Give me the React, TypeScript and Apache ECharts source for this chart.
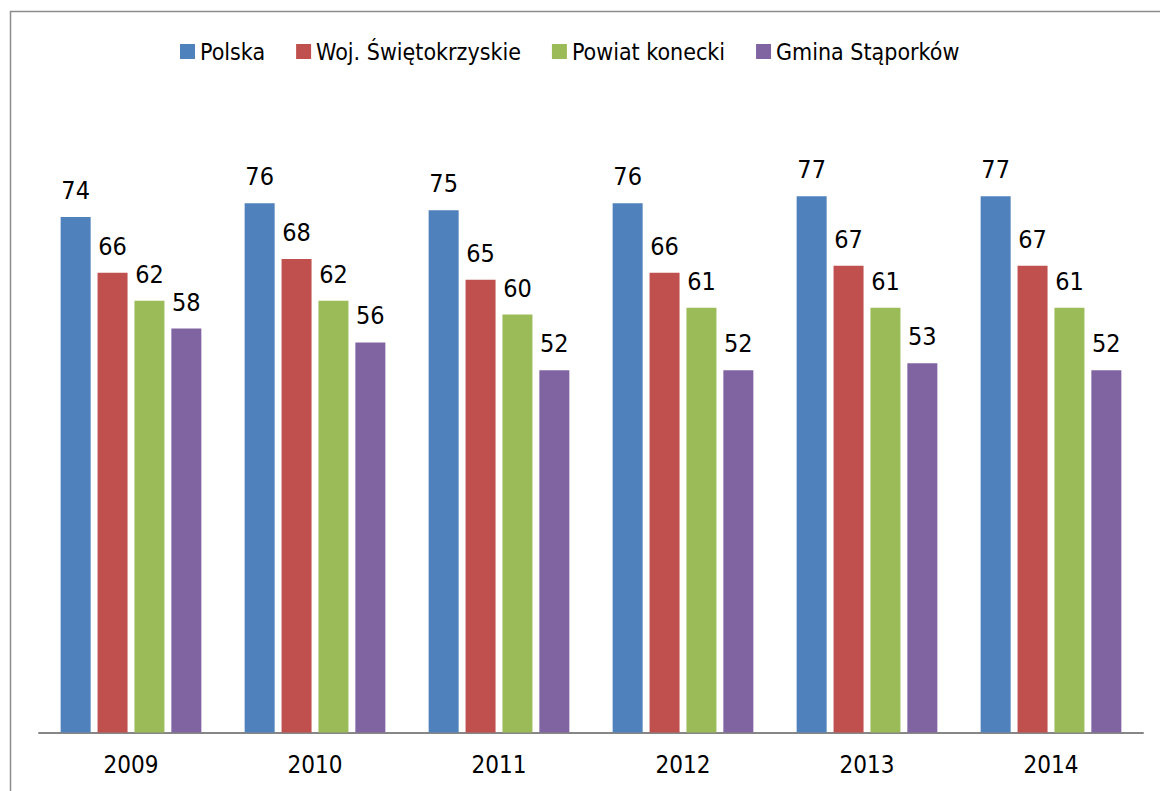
import React, { useEffect, useRef } from "react";
import * as echarts from "echarts";

const years = ["2009", "2010", "2011", "2012", "2013", "2014"];
const polska = [74, 76, 75, 76, 77, 77];
const swietokrzyskie = [66, 68, 65, 66, 67, 67];
const konecki = [62, 62, 60, 61, 61, 61];
const staporkow = [58, 56, 52, 52, 53, 52];

const seriesNames = ["Polska", "Woj. Świętokrzyskie", "Powiat konecki", "Gmina Stąporków"];
const colors = ["#4F81BD", "#C0504D", "#9BBB59", "#8064A2"];

const FONT = "'DejaVu Sans Condensed', 'Liberation Sans Narrow', sans-serif";

export default function App() {
  const ref = useRef<HTMLDivElement>(null);
  useEffect(() => {
    if (!ref.current) return;
    const chart = echarts.init(ref.current, undefined, { renderer: "svg" });
    const data = [polska, swietokrzyskie, konecki, staporkow];
    chart.setOption({
      animation: false,
      backgroundColor: "#ffffff",
      color: colors,
      graphic: [
        {
          type: "rect",
          shape: { x: 10.5, y: 11.5, width: 1200, height: 900 },
          style: { fill: "none", stroke: "#8c8c8c", lineWidth: 1.5 },
          silent: true,
        },
      ],
      legend: {
        top: 35,
        left: 175,
        itemWidth: 15,
        itemHeight: 15,
        itemGap: 31,
        icon: "rect",
        textStyle: { fontFamily: FONT, fontSize: 23, color: "#000" },
        data: seriesNames,
      },
      grid: { left: 39, right: 17, top: 36, bottom: 58.5 },
      xAxis: {
        type: "category",
        data: years,
        axisLine: { lineStyle: { color: "#868686", width: 2 } },
        axisTick: { show: false },
        axisLabel: { fontFamily: FONT, fontSize: 24, color: "#000", margin: 20 },
      },
      yAxis: {
        type: "value",
        min: 0,
        max: 100,
        show: false,
        splitLine: { show: false },
      },
      series: data.map((d, i) => ({
        name: seriesNames[i],
        type: "bar",
        data: d,
        barWidth: 30,
        barGap: "23%",
        itemStyle: { color: colors[i] },
        label: {
          show: true,
          position: "top",
          distance: 14,
          fontFamily: FONT,
          fontSize: 25,
          color: "#000",
        },
      })),
    });
    return () => chart.dispose();
  }, []);
  return (
    <div
      ref={ref}
      style={{ position: "fixed", left: 0, top: 0, width: 1160, height: 791 }}
    />
  );
}
